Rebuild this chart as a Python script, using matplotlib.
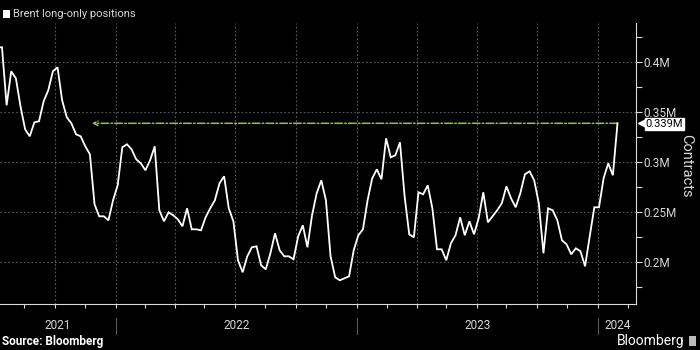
import matplotlib

matplotlib.use("Agg")

import matplotlib.dates as mdates  # noqa: E402
import matplotlib.pyplot as plt  # noqa: E402
import pandas as pd  # noqa: E402
from matplotlib.ticker import FixedLocator, FuncFormatter  # noqa: E402
from matplotlib.transforms import blended_transform_factory  # noqa: E402

# Brent long-only positions, weekly, in millions of contracts
FIRST_WEEK = "2021-07-06"
positions_m = [
    0.415, 0.415, 0.357, 0.391, 0.384, 0.356, 0.333, 0.326, 0.340, 0.341,
    0.361, 0.372, 0.391, 0.395, 0.362, 0.345, 0.339, 0.328, 0.326, 0.316,
    0.308, 0.258, 0.246, 0.246, 0.242, 0.262, 0.277, 0.315, 0.318, 0.313,
    0.303, 0.299, 0.292, 0.302, 0.316, 0.252, 0.241, 0.250, 0.247, 0.243,
    0.236, 0.254, 0.233, 0.233, 0.232, 0.245, 0.254, 0.262, 0.279, 0.286,
    0.254, 0.241, 0.202, 0.190, 0.206, 0.215, 0.216, 0.197, 0.193, 0.209,
    0.229, 0.212, 0.206, 0.206, 0.203, 0.226, 0.237, 0.215, 0.247, 0.269,
    0.282, 0.262, 0.206, 0.185, 0.182, 0.184, 0.186, 0.212, 0.227, 0.233,
    0.262, 0.284, 0.293, 0.283, 0.324, 0.305, 0.307, 0.320, 0.266, 0.228,
    0.225, 0.270, 0.268, 0.277, 0.254, 0.213, 0.213, 0.202, 0.219, 0.227,
    0.245, 0.227, 0.241, 0.228, 0.244, 0.270, 0.240, 0.246, 0.252, 0.259,
    0.276, 0.264, 0.255, 0.269, 0.288, 0.291, 0.282, 0.259, 0.209, 0.254,
    0.252, 0.242, 0.222, 0.218, 0.208, 0.214, 0.211, 0.196, 0.226, 0.255,
    0.255, 0.284, 0.299, 0.287, 0.339,
]
# previous time the series stood at the current level (arrow target)
ARROW_TARGET = "2021-11-26"
years = [2021, 2022, 2023, 2024]
y_ticks = [0.2, 0.25, 0.3, 0.35, 0.4]

BG = "#000000"
FG = "#d9d9d9"
GRID = "#5a5a5a"
GREEN = "#8dc63f"

dates = pd.date_range(FIRST_WEEK, periods=len(positions_m), freq="7D")
x0 = mdates.date2num(pd.Timestamp("2021-07-10"))
x1 = mdates.date2num(pd.Timestamp("2024-02-27"))

plt.rcParams["font.family"] = ["Roboto", "DejaVu Sans"]

fig = plt.figure(figsize=(7, 3.5), dpi=100, facecolor=BG)
ax = fig.add_axes([0, 1 - 304 / 350, 636 / 700, (304 - 22.5) / 350])
ax.set_facecolor(BG)

ax.plot(mdates.date2num(dates), positions_m, color="white", lw=1.3,
        solid_joinstyle="miter", zorder=3)

ax.set_xlim(x0, x1)
ax.set_ylim(0.1583, 0.4398)

# x ticks: 8 per year, grid at quarters
quarters, mids = [], []
for yr in range(2021, 2025):
    for m in (1, 4, 7, 10):
        quarters.append(mdates.date2num(pd.Timestamp(yr, m, 1)))
        mids.append(mdates.date2num(pd.Timestamp(yr, m + 1, 15)))
ax.xaxis.set_major_locator(FixedLocator(quarters))
ax.xaxis.set_minor_locator(FixedLocator(mids))
ax.xaxis.set_major_formatter(FuncFormatter(lambda v, p: ""))
ax.tick_params(axis="x", which="both", direction="out", length=3,
               color=FG, width=0.8)

# y axis on the right
ax.yaxis.tick_right()
ax.yaxis.set_major_locator(FixedLocator(y_ticks))
ax.yaxis.set_minor_locator(FixedLocator([v + 0.025 for v in [0.15] + y_ticks]))
ax.yaxis.set_major_formatter(FuncFormatter(lambda v, p: f"{v:g}M"))
ax.tick_params(axis="y", which="both", direction="out", length=4,
               color=FG, width=0.8, labelcolor=FG, labelsize=8.5, pad=1)
ax.set_ylabel("Contracts", color=FG, fontsize=10.5, rotation=270,
              va="center")
ax.yaxis.set_label_position("right")
ax.yaxis.set_label_coords(1.09, 0.49)

ax.grid(True, which="major", color=GRID, linestyle=(0, (1.5, 2)), lw=0.8)

for side in ("left", "top"):
    ax.spines[side].set_visible(False)
for side in ("right", "bottom"):
    ax.spines[side].set_color(FG)
    ax.spines[side].set_linewidth(0.8)

# year labels and separators under the axis
tx = blended_transform_factory(ax.transData, ax.transAxes)
for yr in years:
    start = max(mdates.date2num(pd.Timestamp(yr, 1, 1)), x0)
    end = min(mdates.date2num(pd.Timestamp(yr + 1, 1, 1)), x1)
    ax.text((start + end) / 2, -0.078, str(yr), transform=tx, color=FG,
            fontsize=8.5, ha="center", va="center")
    if yr > years[0]:
        ax.plot([start, start], [-0.05, -0.107], transform=tx, color=GRID,
                lw=0.8, clip_on=False)

# dash-dot arrow back to the last time positions were this high
last = positions_m[-1]
ax.annotate("", xy=(mdates.date2num(pd.Timestamp(ARROW_TARGET)), last),
            xytext=(mdates.date2num(dates[-1]), last),
            arrowprops=dict(arrowstyle="->", color=GREEN, lw=1.1,
                            linestyle=(0, (5, 1.5, 1, 1.5)),
                            mutation_scale=8, shrinkA=0, shrinkB=0),
            zorder=2)

# value tag on the right axis
ty = blended_transform_factory(ax.transAxes, ax.transData)
ax.plot([1.009], [last], marker="<", ms=6, color="white", mec="white",
        transform=ty, clip_on=False, zorder=4)
ax.text(1.015, last - 0.0005, f"{last:g}M", transform=ty, color="black",
        fontsize=8, ha="left", va="center", zorder=5,
        bbox=dict(boxstyle="square,pad=0.08", fc="white", ec="white"))

# header and footer
fig.patches.append(plt.Rectangle((3 / 700, 1 - 18 / 350), 7 / 700, 8 / 350,
                                 transform=fig.transFigure, fc="white",
                                 ec="none"))
fig.text(13 / 700, 1 - 14 / 350, "Brent long-only positions", color=FG,
         fontsize=8, ha="left", va="center")
fig.text(2 / 700, 1 - 342 / 350, "Source: Bloomberg", color="white",
         fontsize=8.5, fontweight="bold", ha="left", va="center")
fig.text(684 / 700, 1 - 341 / 350, "Bloomberg", color="white",
         fontsize=10, ha="right", va="center")
fig.patches.append(plt.Rectangle((689 / 700, 1 - 346 / 350), 7 / 700,
                                 10 / 350, transform=fig.transFigure,
                                 fc="#bbbbbb", ec="none"))

fig.savefig("out.png", dpi=100, facecolor=BG)
